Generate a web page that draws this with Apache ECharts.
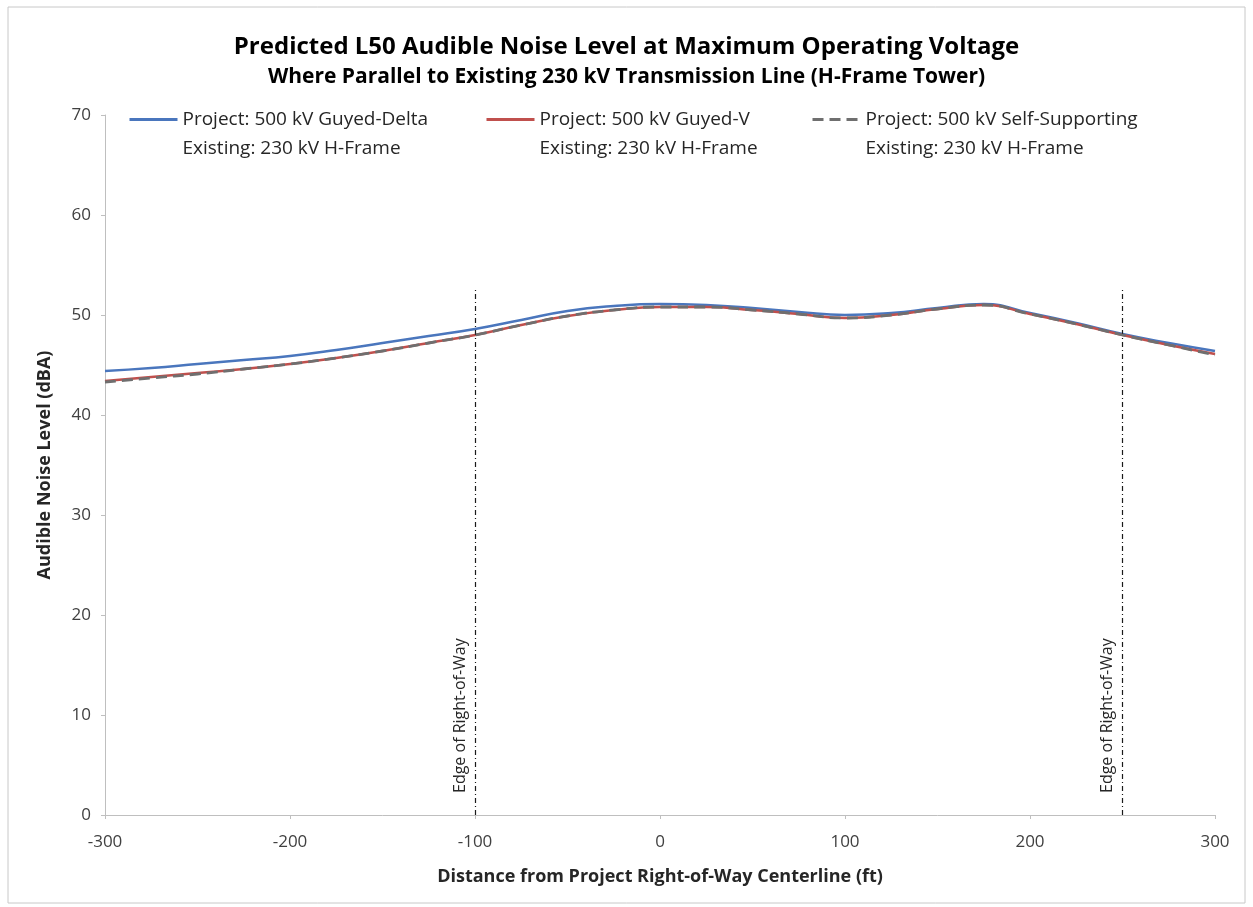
<!DOCTYPE html>
<html>
<head>
<meta charset="utf-8">
<script src="https://cdn.jsdelivr.net/npm/echarts@6/dist/echarts.min.js"></script>
<style>
  html, body { margin: 0; padding: 0; background: #ffffff; }
  #chart { width: 1253px; height: 907px; }
</style>
</head>
<body>
<div id="chart"></div>
<script>
// Distance from the project right-of-way centerline (ft)
const distances = [-300, -275, -250, -225, -200, -175, -150, -125, -100, -75, -50, -25,
                   0, 25, 50, 75, 100, 125, 150, 175, 200, 225, 250, 275, 300];

// L50 audible noise (dBA) for each project structure type
const guyedDelta = [44.4, 44.7, 45.1, 45.5, 45.9, 46.5, 47.2, 47.9, 48.6, 49.5, 50.4, 50.9,
                    51.1, 51.0, 50.7, 50.3, 50.0, 50.2, 50.7, 51.1, 50.2, 49.2, 48.1, 47.2, 46.4];
const guyedV = [43.4, 43.8, 44.2, 44.6, 45.1, 45.7, 46.4, 47.2, 48.0, 49.0, 49.9, 50.5,
                50.8, 50.8, 50.5, 50.1, 49.7, 50.0, 50.6, 51.0, 50.1, 49.1, 48.0, 47.0, 46.1];
const selfSupporting = [43.3, 43.7, 44.1, 44.6, 45.1, 45.7, 46.4, 47.2, 48.0, 49.0, 49.9, 50.5,
                        50.8, 50.8, 50.5, 50.1, 49.7, 50.0, 50.6, 51.0, 50.1, 49.1, 48.0, 47.0, 46.0];

// Edges of the project right-of-way (ft) and the height of their marker lines (dBA)
const rowEdges = [-100, 250];
const rowLineTop = 52.5;
const rowLabel = 'Edge of Right-of-Way';

const seriesNames = [
  'Project: 500 kV Guyed-Delta\nExisting: 230 kV H-Frame',
  'Project: 500 kV Guyed-V\nExisting: 230 kV H-Frame',
  'Project: 500 kV Self-Supporting\nExisting: 230 kV H-Frame'
];

const pairs = (ys) => distances.map((d, i) => [d, ys[i]]);

const chart = echarts.init(document.getElementById('chart'));

// Each legend entry is its own component so the three blocks sit at fixed offsets.
// A blank first line keeps the line icon level with the "Project" line of the label.
const legendBase = {
  top: 71,
  itemWidth: 48,
  itemHeight: 14,
  itemStyle: { opacity: 0 },
  lineStyle: { width: 3 },
  formatter: (name) => ' \n' + name,
  textStyle: { fontFamily: 'Open Sans', fontSize: 19, color: '#262626', lineHeight: 29 }
};

const tickFont = { fontFamily: 'Open Sans', fontSize: 17, color: '#404040' };
const nameFont = { fontFamily: 'Open Sans', fontWeight: 'bold', fontSize: 18, color: '#262626' };

chart.setOption({
  backgroundColor: '#ffffff',
  animation: false,
  title: [
    {
      text: 'Predicted L50 Audible Noise Level at Maximum Operating Voltage',
      left: 'center', top: 30,
      textStyle: { fontFamily: 'Open Sans', fontWeight: 'bold', fontSize: 24, color: '#000000' }
    },
    {
      text: 'Where Parallel to Existing 230 kV Transmission Line (H-Frame Tower)',
      left: 'center', top: 62,
      textStyle: { fontFamily: 'Open Sans', fontWeight: 'bold', fontSize: 21, color: '#000000' }
    }
  ],
  legend: [
    Object.assign({}, legendBase, { left: 123, data: [seriesNames[0]] }),
    Object.assign({}, legendBase, { left: 480, data: [seriesNames[1]] }),
    Object.assign({}, legendBase, { left: 806, data: [seriesNames[2]] })
  ],
  graphic: [
    {
      type: 'rect',
      shape: { x: 8, y: 7, width: 1237, height: 896 },
      style: { fill: 'none', stroke: '#c8c8c8', lineWidth: 1 },
      silent: true
    }
  ],
  grid: { left: 105, right: 38, top: 115, bottom: 92 },
  xAxis: {
    type: 'value',
    min: -300, max: 300, interval: 100,
    name: 'Distance from Project Right-of-Way Centerline (ft)',
    nameLocation: 'middle', nameGap: 53,
    nameTextStyle: nameFont,
    axisLine: { onZero: false, lineStyle: { color: '#bfbfbf', width: 1 } },
    axisTick: { show: true, length: 4, lineStyle: { color: '#bfbfbf' } },
    axisLabel: Object.assign({ margin: 19 }, tickFont),
    splitLine: { show: false }
  },
  yAxis: {
    type: 'value',
    min: 0, max: 70, interval: 10,
    name: 'Audible Noise Level (dBA)',
    nameLocation: 'middle', nameGap: 51, nameRotate: 90,
    nameTextStyle: nameFont,
    axisLine: { show: true, onZero: false, lineStyle: { color: '#bfbfbf', width: 1 } },
    axisTick: { show: true, length: 4, lineStyle: { color: '#bfbfbf' } },
    axisLabel: Object.assign({ margin: 14 }, tickFont),
    splitLine: { show: false }
  },
  series: [
    {
      name: seriesNames[0], type: 'line', smooth: true, symbol: 'none',
      data: pairs(guyedDelta),
      lineStyle: { color: '#4a76bd', width: 2.5 },
      itemStyle: { color: '#4a76bd' },
      z: 3,
      markLine: {
        silent: true, symbol: 'none',
        lineStyle: { color: '#1a1a1a', width: 1.2, type: [5, 3, 1, 3] },
        label: {
          show: true, position: 'insideStartTop', formatter: rowLabel,
          fontFamily: 'Open Sans', fontSize: 16, color: '#262626', distance: [22, 7]
        },
        data: rowEdges.map((x) => [{ coord: [x, 0] }, { coord: [x, rowLineTop] }])
      }
    },
    {
      name: seriesNames[1], type: 'line', smooth: true, symbol: 'none',
      data: pairs(guyedV),
      lineStyle: { color: '#c0504d', width: 2.5 },
      itemStyle: { color: '#c0504d' },
      z: 4
    },
    {
      name: seriesNames[2], type: 'line', smooth: true, symbol: 'none',
      data: pairs(selfSupporting),
      lineStyle: { color: '#6f6f6f', width: 2.8, type: [11, 6] },
      itemStyle: { color: '#8c8c8c' },
      z: 5
    }
  ]
});
</script>
</body>
</html>
